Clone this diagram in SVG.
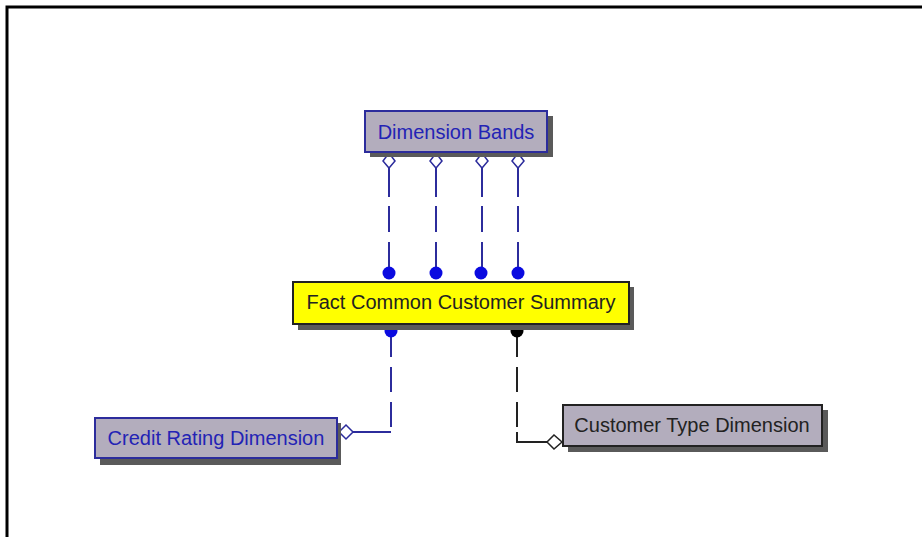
<svg xmlns="http://www.w3.org/2000/svg" width="922" height="537" viewBox="0 0 922 537">
<defs>
<style>
.shadow{fill:#5a5a5a}
.ent{fill:#b3adbd;stroke-width:2}
.blue{stroke:#2c2c9c}
.dark{stroke:#222}
.lbl{font-family:"Liberation Sans",Arial,sans-serif;font-size:20px;text-anchor:middle}
.lb{fill:#2323b5}
.ld{fill:#222}
.cb{fill:none;stroke:#2c2c9c;stroke-width:2}
.ck{fill:none;stroke:#222;stroke-width:2}
.dash{stroke-dasharray:29 9 26 10 25 10}
.dotb{fill:#0a0ae0}
.dotk{fill:#000}
.diab{fill:#fff;stroke:#2c2c9c;stroke-width:1.5}
.diak{fill:#fff;stroke:#222;stroke-width:1.5}
</style>
</defs>
<rect width="922" height="537" fill="#fff"/>
<path d="M7 537 V7 H922" fill="none" stroke="#000" stroke-width="3"/>
<g id="connectors">
<path class="cb dash" d="M389 168 V273"/>
<path class="cb dash" d="M436 168 V273"/>
<path class="cb dash" d="M482 168 V273"/>
<path class="cb dash" d="M518 168 V273"/>
<polygon class="diab" points="389,153 395,161 389,168 383,161"/>
<polygon class="diab" points="436,153 442,161 436,168 430,161"/>
<polygon class="diab" points="482,153 488,161 482,168 476,161"/>
<polygon class="diab" points="518,153 524,161 518,168 512,161"/>
<circle class="dotb" cx="389" cy="273" r="6.5"/>
<circle class="dotb" cx="436" cy="273" r="6.5"/>
<circle class="dotb" cx="481" cy="273" r="6.5"/>
<circle class="dotb" cx="518" cy="273" r="6.5"/>
<path class="cb" d="M391 332 V432 H353" stroke-dasharray="25 10 25 10 25 5 60"/>
<polygon class="diab" points="339,432 346,425 353,432 346,439"/>
<circle class="dotb" cx="391" cy="331" r="6.5"/>
<path class="ck" d="M517 332 V442 H547" stroke-dasharray="25 10 25 10 25 5 60"/>
<polygon class="diak" points="547,442 554,435 562,442 554,449"/>
<circle class="dotk" cx="517" cy="331" r="6.5"/>
</g>
<g id="dimension-bands">
<rect class="shadow" x="370" y="116" width="183" height="41"/>
<rect class="ent blue" x="365" y="111" width="182" height="41"/>
<text class="lbl lb" x="456" y="139">Dimension Bands</text>
</g>
<g id="fact-common-customer-summary">
<rect class="shadow" x="298" y="287" width="336" height="43"/>
<rect x="293" y="282" width="336" height="42" fill="#ffff00" stroke="#222" stroke-width="2"/>
<text class="lbl ld" x="461" y="309">Fact Common Customer Summary</text>
</g>
<g id="credit-rating-dimension">
<rect class="shadow" x="100" y="423" width="241" height="42"/>
<rect class="ent blue" x="95" y="418" width="242" height="40"/>
<text class="lbl lb" x="216" y="445">Credit Rating Dimension</text>
</g>
<g id="customer-type-dimension">
<rect class="shadow" x="568" y="410" width="260" height="42"/>
<rect class="ent dark" x="563" y="405" width="259" height="41"/>
<text class="lbl ld" x="692" y="432">Customer Type Dimension</text>
</g>
</svg>
